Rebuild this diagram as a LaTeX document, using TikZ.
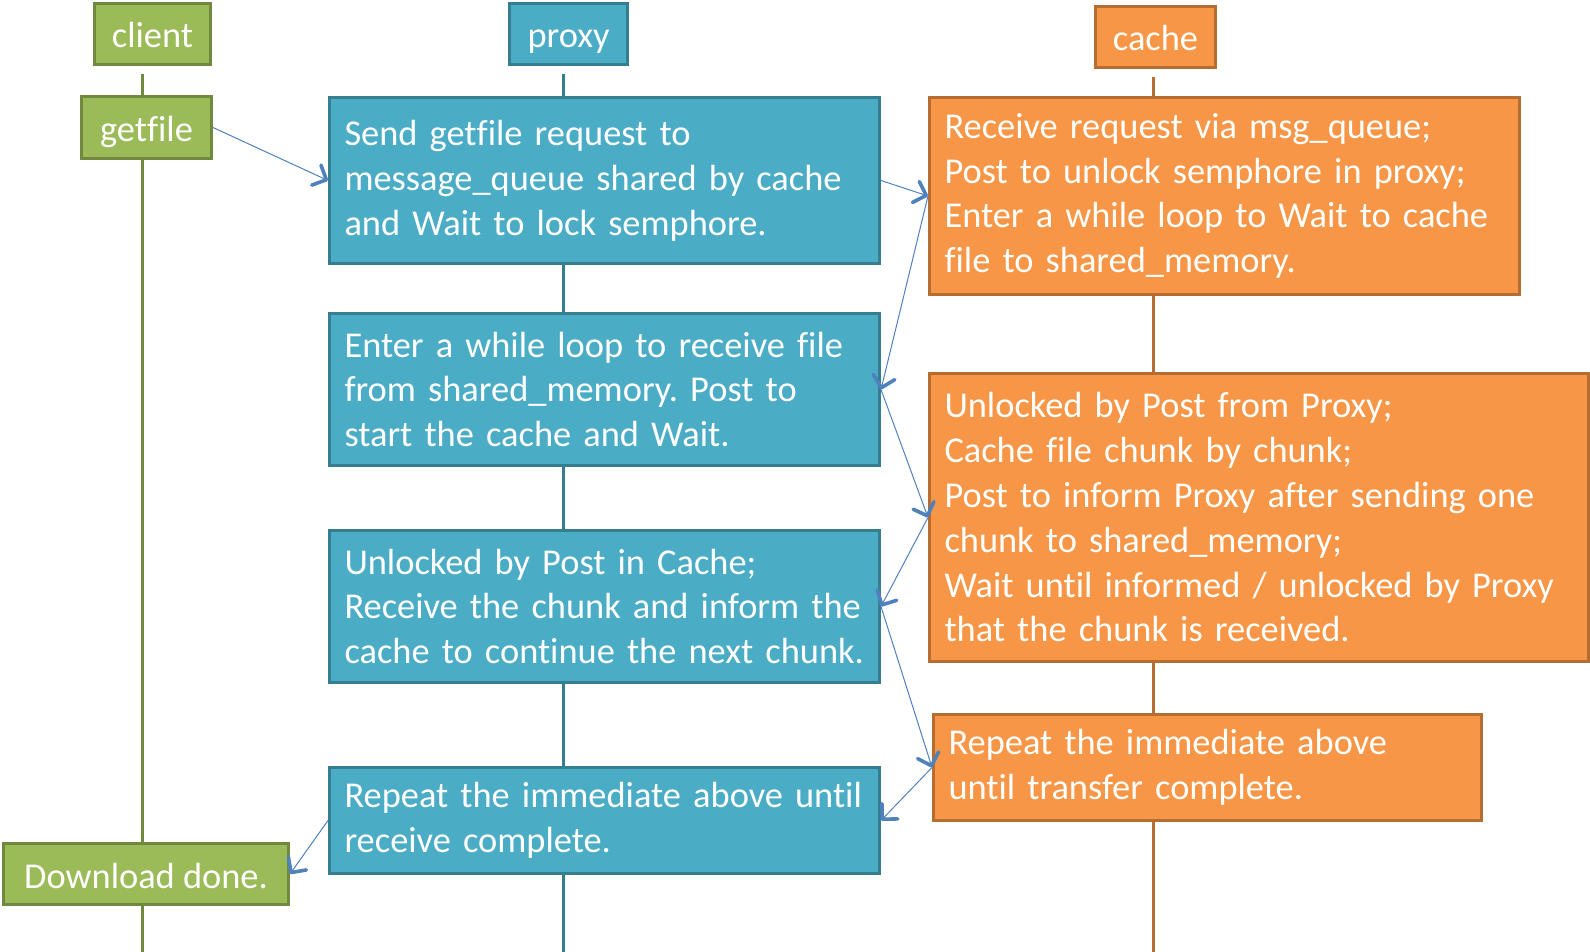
\documentclass[tikz,border=0pt]{standalone}
\usepackage{fontspec}
\setmainfont{Carlito}[Ligatures=NoCommon]
\frenchspacing
\usetikzlibrary{arrows.meta}
\definecolor{grfill}{HTML}{9BBB59}
\definecolor{grline}{HTML}{71893F}
\definecolor{blfill}{HTML}{4BACC6}
\definecolor{blline}{HTML}{357D91}
\definecolor{orfill}{HTML}{F79646}
\definecolor{orline}{HTML}{B66D31}
\definecolor{msgblue}{HTML}{4F81BD}

\begin{document}
\begin{tikzpicture}[x=0.5pt,y=-0.5pt,
    box/.style={draw,line width=1.5pt,anchor=north west,text=white,
      font=\fontsize{18.2}{22.4}\selectfont,inner xsep=7.5pt,inner ysep=0pt},
    tag/.style={box,align=center,text height=14pt,text depth=0pt},
    note/.style={box,align=left},
    client/.style={fill=grfill,draw=grline},
    proxy/.style={fill=blfill,draw=blline},
    cache/.style={fill=orfill,draw=orline},
    life/.style={line width=1.5pt},
    msg/.style={draw=msgblue,line width=0.5pt,
      -{Straight Barb[length=5.5pt,width=11pt,line width=1.8pt,round]}}]
      \useasboundingbox (0,0) rectangle (1590,952);
      %% headers
      \node[tag,client,minimum width=58pt,minimum height=30.5pt](C) at (93,2) {client};
      \node[tag,proxy,minimum width=59pt,minimum height=30.5pt](P) at (508,2) {proxy};
      \node[tag,cache,minimum width=60pt,minimum height=30.5pt](K) at (1094,5) {cache};
      %% client column
      \node[tag,client,minimum width=65pt,minimum height=31pt](get) at (80,95) {getfile};
      \node[tag,client,minimum width=142.5pt,minimum height=30.5pt](done) at (2,842) {Download done.};
      %% proxy column
      \node[note,proxy,text width=260pt,minimum height=83pt](P1) at (328,96)
        {Send getfile request to\\ message\_queue shared by cache\\ and Wait to lock semphore.};
      \node[note,proxy,text width=260pt,minimum height=76pt](P2) at (328,312)
        {Enter a while loop to receive file\\ from shared\_memory. Post to\\ start the cache and Wait.};
      \node[note,proxy,text width=260pt,minimum height=76pt](P3) at (328,529)
        {Unlocked by Post in Cache;\\ Receive the chunk and inform the\\ cache to continue the next chunk.};
      \node[note,proxy,text width=260pt,minimum height=53pt](P4) at (328,766)
        {Repeat the immediate above until\\ receive complete.};
      %% cache column
      \node[note,cache,text width=280pt,minimum height=98.5pt](K1) at (928,96)
        {Receive request via msg\_queue;\\ Post to unlock semphore in proxy;\\ Enter a while loop to Wait to cache\\ file to shared\_memory.};
      \node[note,cache,text width=314.5pt,minimum height=144pt](K2) at (928,372)
        {Unlocked by Post from Proxy;\\ Cache file chunk by chunk;\\ Post to inform Proxy after sending one\\ chunk to shared\_memory;\\ Wait until informed / unlocked by Proxy\\ that the chunk is received.};
      \node[note,cache,text width=259pt,minimum height=53pt](K3) at (932,713)
        {Repeat the immediate above\\ until transfer complete.};
      %% lifelines
      \coordinate(cl) at (142,952);
      \coordinate(pl) at (563,952);
      \coordinate(kl) at (1153,952);
      \begin{scope}[life,draw=grline]
        \draw[shorten <=4pt](C.south -| cl)--(get.north -| cl);
        \draw(get.south -| cl)--(done.north -| cl);
        \draw(done.south -| cl)--(cl);
      \end{scope}
      \begin{scope}[life,draw=blline]
        \draw[shorten <=4pt](P.south -| pl)--(P1.north -| pl);
        \draw(P1.south -| pl)--(P2.north -| pl);
        \draw(P2.south -| pl)--(P3.north -| pl);
        \draw(P3.south -| pl)--(P4.north -| pl);
        \draw(P4.south -| pl)--(pl);
      \end{scope}
      \begin{scope}[life,draw=orline]
        \draw[shorten <=4pt](K.south -| kl)--(K1.north -| kl);
        \draw(K1.south -| kl)--(K2.north -| kl);
        \draw(K2.south -| kl)--(K3.north -| kl);
        \draw(K3.south -| kl)--(kl);
      \end{scope}
      %% messages
      \draw[msg](get.east)--(P1.west);
      \draw[msg](P1.east)--(K1.west);
      \draw[msg](K1.west)--(P2.east);
      \draw[msg](P2.east)--(K2.west);
      \draw[msg](K2.west)--(P3.east);
      \draw[msg](P3.east)--(K3.west);
      \draw[msg](K3.west)--(P4.east);
      \draw[msg](P4.west)--(done.east);
    \end{tikzpicture}
\end{document}
